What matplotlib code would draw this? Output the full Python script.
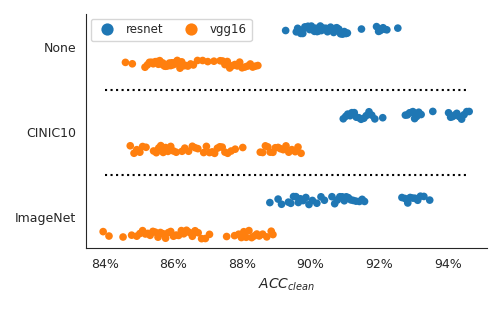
import numpy as np
import pandas as pd
import matplotlib
matplotlib.use("Agg")
import matplotlib.pyplot as plt
import seaborn as sns

categories = ["None", "CINIC10", "ImageNet"]
models = ["resnet", "vgg16"]

# accuracy values (%)
resnet_none = [89.27, 89.58, 89.62, 89.68, 89.71, 89.77, 89.83, 89.86, 89.92, 89.97,
               90.02, 90.06, 90.11, 90.14, 90.19, 90.23, 90.28, 90.31, 90.36, 90.41,
               90.44, 90.49, 90.53, 90.58, 90.62, 90.67, 90.71, 90.76, 90.82, 90.87,
               90.93, 90.98, 91.03, 91.07, 91.48, 91.92, 91.98, 92.03, 92.07, 92.11,
               92.16, 92.22, 92.54]
vgg16_none = [84.6, 84.8, 85.17, 85.24, 85.3, 85.36, 85.41, 85.47, 85.52, 85.56,
              85.6, 85.65, 85.69, 85.73, 85.77, 85.8, 85.84, 85.88, 85.92, 85.95,
              85.99, 86.03, 86.07, 86.11, 86.15, 86.19, 86.24, 86.29, 86.35, 86.42,
              86.5, 86.58, 86.7, 86.85, 87.0, 87.18, 87.36, 87.43, 87.5, 87.57,
              87.64, 87.72, 87.79, 87.86, 87.93, 88.0, 88.08, 88.16, 88.24, 88.31,
              88.38, 88.46]
resnet_cinic = [90.95, 91.02, 91.08, 91.15, 91.2, 91.27, 91.33, 91.4, 91.47, 91.55,
                91.62, 91.7, 91.78, 91.87, 92.1, 92.76, 92.82, 92.88, 92.93, 92.98,
                93.03, 93.09, 93.15, 93.22, 93.56, 94.02, 94.08, 94.14, 94.2, 94.26,
                94.33, 94.4, 94.47, 94.55, 94.62]
vgg16_cinic = [84.74, 84.85, 84.93, 85.02, 85.1, 85.2,
               85.42, 85.5, 85.57, 85.63, 85.7, 85.77, 85.84, 85.92, 86.0, 86.08,
               86.25, 86.33, 86.44, 86.55, 86.63, 86.71,
               86.88, 86.96, 87.05, 87.13, 87.2, 87.28, 87.35, 87.42, 87.5, 87.58,
               87.68, 87.8, 88.02,
               88.53, 88.6, 88.68, 88.75, 88.82, 88.9, 88.97, 89.05, 89.12, 89.2,
               89.28, 89.36, 89.45, 89.55, 89.63, 89.72]
resnet_imagenet = [88.81, 89.05, 89.15,
                   89.35, 89.42, 89.5, 89.57, 89.64, 89.7, 89.78, 89.86, 89.95, 90.05,
                   90.18, 90.3, 90.4,
                   90.62, 90.7, 90.78, 90.85, 90.92, 90.98, 91.04, 91.1, 91.17, 91.24,
                   91.32, 91.42, 91.5, 91.57,
                   92.66, 92.75, 92.83, 92.9, 92.97, 93.04, 93.12, 93.2, 93.3, 93.47]
vgg16_imagenet = [83.95, 84.12, 84.53, 84.78,
                  84.93, 85.02, 85.1, 85.18, 85.25, 85.32, 85.4, 85.47, 85.55, 85.62,
                  85.7, 85.77, 85.85, 85.92, 86.0, 86.08, 86.15, 86.23, 86.3, 86.38,
                  86.46, 86.55, 86.63, 86.72, 86.82, 86.93, 87.05,
                  87.55, 87.78, 87.9, 87.98, 88.05, 88.12, 88.2, 88.28, 88.35, 88.43,
                  88.5, 88.6, 88.72, 88.85, 88.9]

groups = {
    ("None", "resnet"): resnet_none, ("None", "vgg16"): vgg16_none,
    ("CINIC10", "resnet"): resnet_cinic, ("CINIC10", "vgg16"): vgg16_cinic,
    ("ImageNet", "resnet"): resnet_imagenet, ("ImageNet", "vgg16"): vgg16_imagenet,
}
rows = []
for (cat, model), vals in groups.items():
    for v in vals:
        rows.append({"data": cat, "model": model, "acc": v})
df = pd.DataFrame(rows)

sns.set_style("white")
plt.rcParams['font.family'] = ['DejaVu Sans']

fig = plt.figure(figsize=(5, 3.09), dpi=100)
ax = fig.add_axes([0.172, 0.197, 0.802, 0.758])

np.random.seed(3)
sns.stripplot(data=df, x="acc", y="data", hue="model", order=categories,
              hue_order=models, dodge=True, jitter=True, size=5.5, ax=ax)

ax.hlines([0.5, 1.5], 84, 94.55, colors="black", linestyles=":", linewidth=1.5)

ax.set_xlim(83.45, 95.14)
ax.set_ylim(2.36, -0.39)
ax.set_xticks([84, 86, 88, 90, 92, 94])
ax.set_xticklabels([f"{t}%" for t in [84, 86, 88, 90, 92, 94]], fontsize=9)
ax.tick_params(axis="y", labelsize=9)
ax.set_ylabel("")
ax.set_xlabel("$ACC_{clean}$", fontsize=10)
sns.despine(ax=ax)

ax.legend(ncol=2, loc="upper left", fontsize=8.5, markerscale=1.6,
          borderaxespad=0.4, columnspacing=1.3, handletextpad=0.6)

fig.savefig("out.png", dpi=100)
